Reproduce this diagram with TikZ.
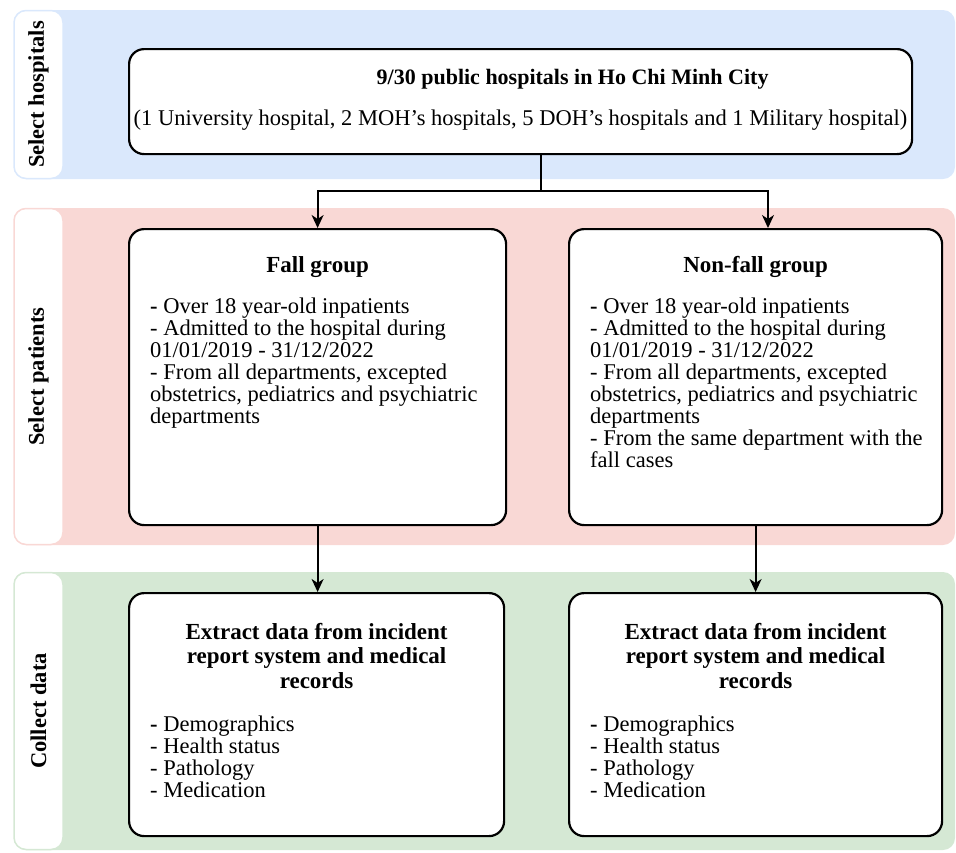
\documentclass[tikz,border=0pt]{standalone}
\usepackage{fontspec}
\setmainfont{Liberation Serif}
\usetikzlibrary{arrows.meta, positioning, calc}
\definecolor{lanehosp}{HTML}{DAE8FC}
\definecolor{lanepat}{HTML}{F9D8D5}
\definecolor{lanedata}{HTML}{D5E8D4}
\newcommand{\bodyfont}{\fontsize{22.5}{22}\selectfont}
\newcommand{\headfont}{\fontsize{23}{24.5}\selectfont\bfseries}

\begin{document}
\begin{tikzpicture}[>=Stealth, x=1pt, y=-1pt,
  strip/.style={draw=#1, fill=white, line width=1.5pt, rounded corners=12pt,
                rotate=90, minimum height=49pt, inner sep=0pt,
                font=\fontsize{22.5}{24}\selectfont\bfseries},
  box/.style={draw, line width=2.2pt, rounded corners=15pt, fill=white,
              inner sep=0pt, anchor=north west},
  head/.style={font=\headfont, align=center, inner sep=0pt},
  items/.style={font=\bodyfont, align=left, inner sep=0pt, anchor=north west},
  flow/.style={->, line width=1.8pt, >={Stealth[length=13pt, width=12pt, inset=4pt]}}]
  \useasboundingbox (0,0) rectangle (956,852);

  % swim lanes
  \fill[lanehosp, rounded corners=12pt] (14,10) rectangle (955,179);
  \fill[lanepat, rounded corners=12pt] (14,208) rectangle (955,545);
  \fill[lanedata, rounded corners=12pt] (14,572) rectangle (955,850);
  \node[strip=lanehosp, minimum width=168pt] (striphosp) at (38.5,94.5) {Select hospitals};
  \node[strip=lanepat, minimum width=336pt] (strippat) at (38.5,376.5) {Select patients};
  \node[strip=lanedata, minimum width=277pt] (stripdata) at (38.5,711) {Collect data};

  % hospitals
  \node[box, minimum width=783pt, minimum height=105pt] (hosp) at (128,48) {};
  \node[head, font=\fontsize{22}{24}\selectfont\bfseries, below=21pt of hosp.north,
        xshift=52pt] (hosptitle)
    {9/30 public hospitals in Ho Chi Minh City};
  \node[font=\bodyfont, inner sep=0pt, below=62pt of hosp.north] (hospsub)
    {(1 University hospital, 2 MOH's hospitals, 5 DOH's hospitals and 1 Military hospital)};

  % patients
  \node[box, minimum width=377pt, minimum height=296pt] (fall) at (128,228) {};
  \node[head, below=28pt of fall.north] (falltitle) {Fall group};
  \node[items] (falllist) at ($(fall.north west)+(22,70)$)
    {\textbf{-} Over 18 year-old inpatients\\
     - Admitted to the hospital during\\
     01/01/2019 - 31/12/2022\\
     - From all departments, excepted\\
     obstetrics, pediatrics and psychiatric\\
     departments};

  \node[box, minimum width=373pt, minimum height=296pt] (nonfall) at (568,228) {};
  \node[head, below=28pt of nonfall.north] (nonfalltitle) {Non-fall group};
  \node[items] (nonfalllist) at ($(nonfall.north west)+(22,70)$)
    {\textbf{-} Over 18 year-old inpatients\\
     - Admitted to the hospital during\\
     01/01/2019 - 31/12/2022\\
     - From all departments, excepted\\
     obstetrics, pediatrics and psychiatric\\
     departments\\
     - From the same department with the\\
     fall cases};

  % data collection
  \node[box, minimum width=375pt, minimum height=243pt] (exfall) at (128,592) {};
  \node[head, below=31pt of exfall.north] (exfalltitle)
    {Extract data from incident\\report system and medical\\records};
  \node[items] (exfalllist) at ($(exfall.north west)+(22,124)$)
    {\textbf{-} Demographics\\- Health status\\- Pathology\\- Medication};

  \node[box, minimum width=373pt, minimum height=243pt] (exnon) at (568,592) {};
  \node[head, below=31pt of exnon.north] (exnontitle)
    {Extract data from incident\\report system and medical\\records};
  \node[items] (exnonlist) at ($(exnon.north west)+(22,124)$)
    {\textbf{-} Demographics\\- Health status\\- Pathology\\- Medication};

  % connectors
  \coordinate (fork) at (541,191);
  \coordinate (nonfallin) at (768,228);
  \draw[line width=1.8pt] (hosp.south -| fork) -- (fork);
  \draw[flow] (fork) -| (fall.north);
  \draw[flow] (fork) -| (nonfallin);
  \draw[flow] (fall.south) -- (fall.south |- exfall.north);
  \draw[flow] (nonfall.south) -- (nonfall.south |- exnon.north);
\end{tikzpicture}
\end{document}
